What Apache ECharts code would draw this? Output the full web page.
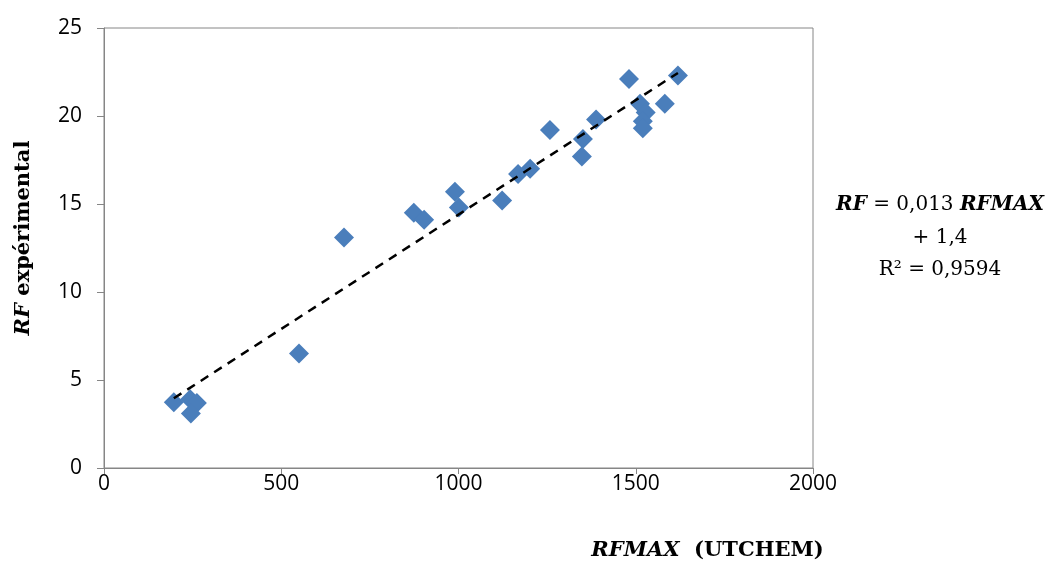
<!DOCTYPE html>
<html>
<head>
<meta charset="utf-8">
<script src="https://cdn.jsdelivr.net/npm/echarts@6/dist/echarts.min.js"></script>
<style>html,body{margin:0;padding:0;background:#fff}#c{width:1050px;height:566px}</style>
</head>
<body>
<div id="c"></div>
<script>
const rfmax = [197, 243, 262, 245, 550, 677, 874, 903, 990, 1001, 1123, 1168, 1202, 1258, 1348, 1351, 1388, 1481, 1512, 1528, 1520, 1520, 1582, 1619];
const rfExp = [3.73, 3.9, 3.7, 3.1, 6.5, 13.1, 14.5, 14.1, 15.7, 14.8, 15.2, 16.7, 17.0, 19.2, 17.7, 18.7, 19.8, 22.1, 20.7, 20.2, 19.7, 19.3, 20.7, 22.3];
const slope = 0.013, intercept = 1.4;
const xTicks = [0, 500, 1000, 1500, 2000];
const yTicks = [0, 5, 10, 15, 20, 25];

const pts = rfmax.map((x, i) => [x, rfExp[i]]);
const xMin = Math.min(...rfmax), xMax = Math.max(...rfmax);
const trend = [[xMin, slope * xMin + intercept], [xMax, slope * xMax + intercept]];

const chart = echarts.init(document.getElementById('c'));
const serif = '"DejaVu Serif", "Liberation Serif", serif';
const sans = '"Open Sans", "Liberation Sans", sans-serif';
const nameRich = {
  b: {fontFamily: serif, fontWeight: 'bold', fontStyle: 'italic', fontSize: 21, color: '#000'},
  n: {fontFamily: serif, fontWeight: 'bold', fontSize: 21, color: '#000'}
};
chart.setOption({
  animation: false,
  grid: {left: 104, top: 28, right: 237, bottom: 96, show: true, borderColor: '#868686', borderWidth: 1},
  xAxis: {
    type: 'value', min: xTicks[0], max: xTicks[xTicks.length - 1], interval: xTicks[1] - xTicks[0],
    axisLine: {show: true, lineStyle: {color: '#868686'}},
    axisTick: {show: true, length: 6, lineStyle: {color: '#868686'}},
    splitLine: {show: false},
    axisLabel: {color: '#000', fontSize: 21, fontFamily: sans, margin: 6, formatter: v => String(v)},
    name: '{b|RFMAX}{n|  (UTCHEM)}', nameLocation: 'middle', nameGap: 72,
    nameTextStyle: {padding: [0, 0, 0, 498], rich: nameRich}
  },
  yAxis: {
    type: 'value', min: yTicks[0], max: yTicks[yTicks.length - 1], interval: yTicks[1] - yTicks[0],
    axisLine: {show: true, lineStyle: {color: '#868686'}},
    axisTick: {show: true, length: 7, lineStyle: {color: '#868686'}},
    splitLine: {show: false},
    axisLabel: {color: '#000', fontSize: 21, fontFamily: sans, margin: 22, formatter: v => String(v)},
    name: '{b|RF}{n| expérimental}', nameLocation: 'middle', nameGap: 70, nameRotate: 90,
    nameTextStyle: {padding: [0, 0, 0, 20], rich: nameRich}
  },
  series: [
    {type: 'scatter', data: pts, symbol: 'diamond', symbolSize: 20,
     itemStyle: {color: '#4A7EBB', opacity: 1}, z: 2},
    {type: 'line', data: trend, symbol: 'none', z: 3,
     lineStyle: {color: '#000', width: 2.5, type: [9, 7]}}
  ],
  graphic: [
    {type: 'text', x: 940, y: 205, style: {
      text: '{b|RF} = 0,013 {b|RFMAX}', align: 'center', textAlign: 'center', verticalAlign: 'middle', textVerticalAlign: 'middle',
      font: '20px ' + serif, fill: '#000',
      rich: {b: {fontFamily: serif, fontWeight: 'bold', fontStyle: 'italic', fontSize: 20, fill: '#000', color: '#000'}}
    }},
    {type: 'text', x: 940, y: 238, style: {
      text: '+ 1,4', align: 'center', textAlign: 'center', verticalAlign: 'middle', textVerticalAlign: 'middle',
      font: '20px ' + serif, fill: '#000'
    }},
    {type: 'text', x: 940, y: 270, style: {
      text: 'R² = 0,9594', align: 'center', textAlign: 'center', verticalAlign: 'middle', textVerticalAlign: 'middle',
      font: '20px ' + serif, fill: '#000'
    }}
  ]
});
</script>
</body>
</html>
